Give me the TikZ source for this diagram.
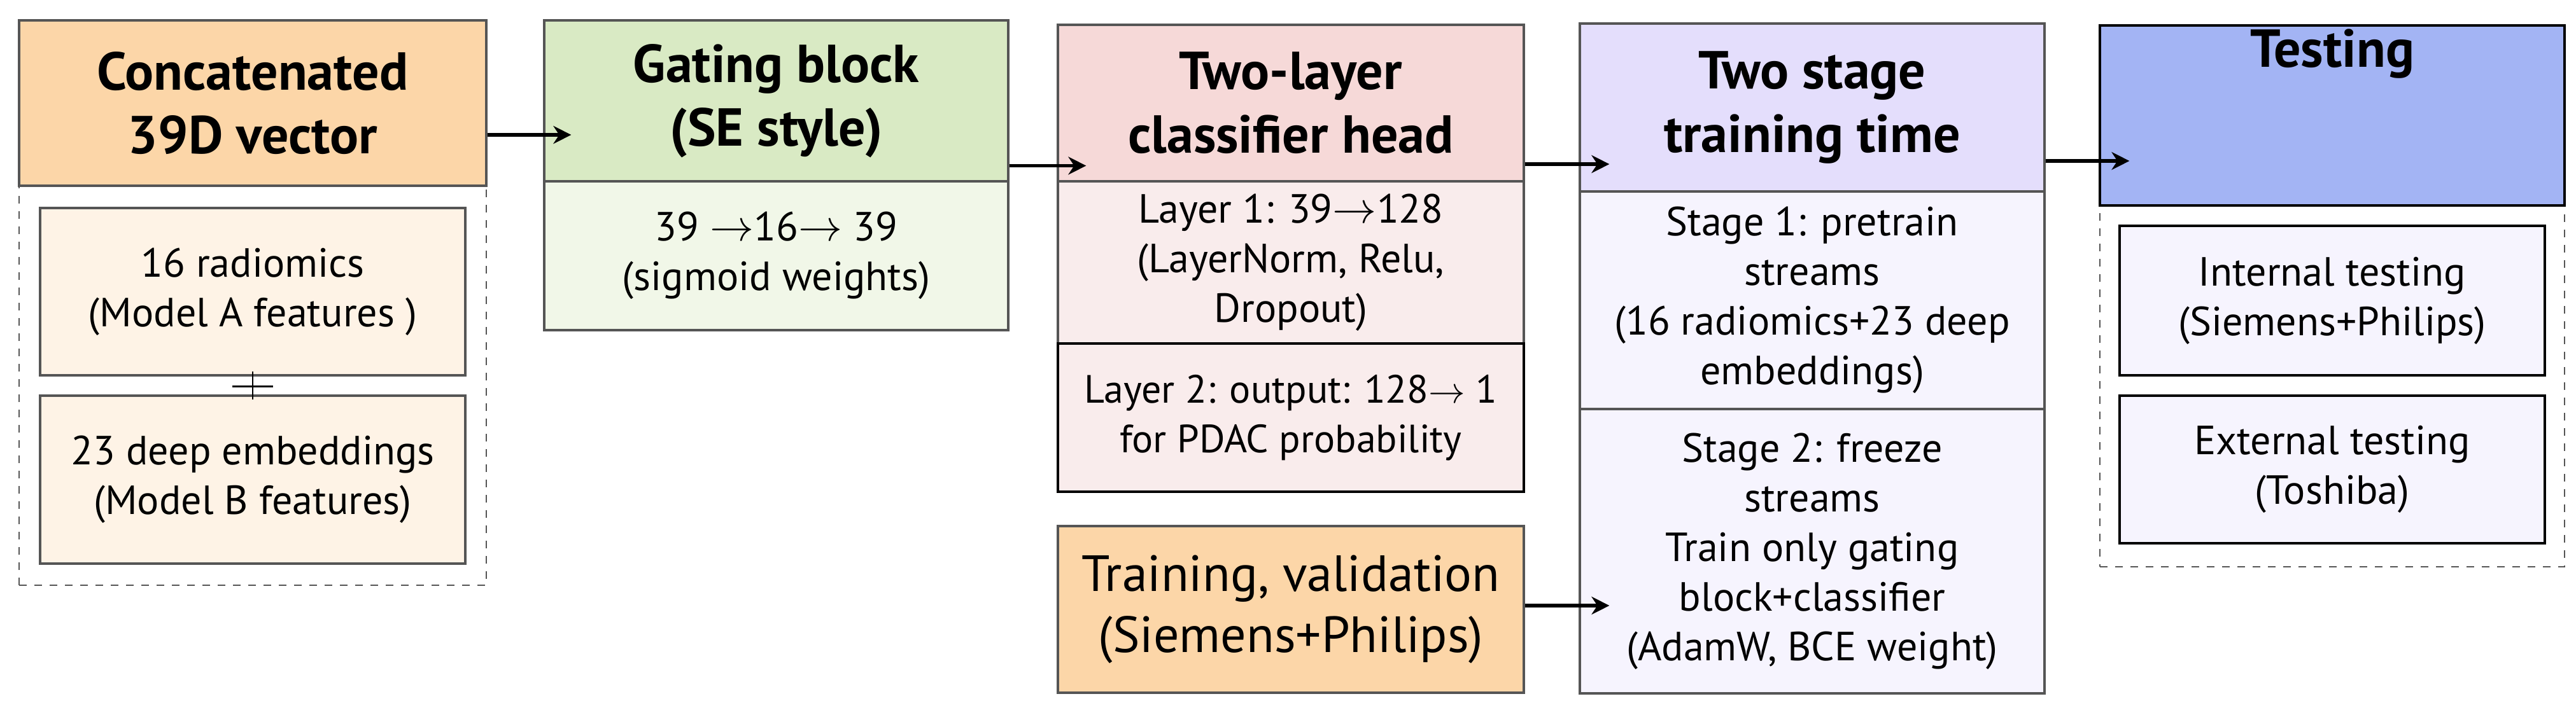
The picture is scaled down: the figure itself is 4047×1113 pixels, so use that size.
\documentclass[tikz,border=0pt]{standalone}
\usepackage{fontspec}
\setmainfont{PT Sans}
\usetikzlibrary{arrows.meta,calc}
\definecolor{orH}{HTML}{FCD6A8}\definecolor{orB}{HTML}{FEF3E6}
\definecolor{grH}{HTML}{D9EAC4}\definecolor{grB}{HTML}{F1F7E8}
\definecolor{pkH}{HTML}{F6D9D8}\definecolor{pkB}{HTML}{F9ECEC}
\definecolor{lvH}{HTML}{E4DEFC}\definecolor{lvB}{HTML}{F6F4FE}
\definecolor{blH}{HTML}{A3B4F4}\definecolor{edge}{HTML}{555555}
\newcommand\bx[7]{%
  \pgfmathsetmacro\bw{(#4-#2)*0.25}\pgfmathsetmacro\bh{(#5-#3)*0.25}%
  \node[#6,minimum width=\bw pt,minimum height=\bh pt] (#1) at ({(#2+#4)/2},{(#3+#5)/2}) {#7};}
\begin{document}
\begin{tikzpicture}[x=0.25pt,y=-0.25pt,
  box/.style={draw=edge,line width=0.8pt,inner sep=0pt,align=center,font=\fontsize{16}{19.5}\selectfont},
  head/.style={box,font=\bfseries\fontsize{21}{25}\selectfont},
  dashbox/.style={draw=edge,dashed,line width=0.7pt,inner sep=0pt},
  arr/.style={-{Stealth[length=7pt,width=7pt]},line width=1.4pt,black}]
\useasboundingbox (0,0) rectangle (4047,1113);
% column 1
\bx{c1}{30}{292}{764}{920}{dashbox}{}
\bx{h1}{30}{32}{764}{292}{head,fill=orH}{Concatenated\\39D vector}
\bx{a}{63}{327}{731}{590}{box,fill=orB}{16 radiomics\\(Model A features )}
\bx{b}{63}{622}{731}{886}{box,fill=orB}{23 deep embeddings\\(Model B features)}
\draw[line width=0.6pt] ($(a.south)+(0,2pt)$) -- ($(b.north)+(0,-2pt)$);
\draw[line width=0.6pt] ($(a.south)+(-8pt,-4pt)$) -- ($(a.south)+(8pt,-4pt)$);
% column 2
\bx{h2}{855}{32}{1584}{285}{head,fill=grH}{Gating block\\(SE style)}
\bx{g2}{855}{285}{1584}{519}{box,fill=grB}{39 $\rightarrow$16$\rightarrow$ 39\\(sigmoid weights)}
% column 3
\bx{h3}{1662}{39}{2394}{285}{head,fill=pkH}{Two-layer\\classifier head}
\bx{l1}{1662}{285}{2394}{540}{box,fill=pkB}{Layer 1: 39$\rightarrow$128\\(LayerNorm, Relu,\\Dropout)}
\bx{l2}{1662}{540}{2394}{773}{box,fill=pkB,draw=black,font=\fontsize{15.5}{19.5}\selectfont}{Layer 2: output: 128$\rightarrow$ 1\\for PDAC probability}
\bx{tr}{1662}{827}{2394}{1089}{box,fill=orH,font=\fontsize{20}{24}\selectfont}{Training, validation\\(Siemens+Philips)}
% column 4
\bx{h4}{2482}{37}{3212}{301}{head,fill=lvH}{Two stage\\training time}
\bx{s1}{2482}{301}{3212}{643}{box,fill=lvB}{Stage 1: pretrain\\streams\\(16 radiomics+23 deep\\embeddings)}
\bx{s2}{2482}{643}{3212}{1090}{box,fill=lvB}{Stage 2: freeze\\streams\\Train only gating\\block+classifier\\(AdamW, BCE weight)}
% column 5
\bx{c5}{3299}{323}{4029}{891}{dashbox}{}
\bx{h5}{3299}{40}{4029}{323}{head,fill=blH,draw=black}{Testing\\[28pt]}
\bx{i1}{3330}{355}{3998}{590}{box,fill=lvB,draw=black}{Internal testing\\(Siemens+Philips)}
\bx{i2}{3330}{622}{3998}{854}{box,fill=lvB,draw=black}{External testing\\(Toshiba)}
% arrows
\draw[arr] ($(h1.east)+(0,-12.5pt)$) -- ($(h1.east -| h2.west)+(11pt,-12.5pt)$);
\draw[arr] ($(h2.east)+(0,-25.5pt)$) -- ($(h2.east -| h3.west)+(11.5pt,-25.5pt)$);
\draw[arr] ($(h3.east)+(0,-24pt)$) -- ($(h3.east -| h4.west)+(12pt,-24pt)$);
\draw[arr] ($(h4.east)+(0,-21pt)$) -- ($(h4.east -| h5.west)+(12pt,-21pt)$);
\draw[arr] ($(tr.east)+(0,1.5pt)$) -- ($(tr.east -| s2.west)+(12pt,1.5pt)$);
\end{tikzpicture}
\end{document}
